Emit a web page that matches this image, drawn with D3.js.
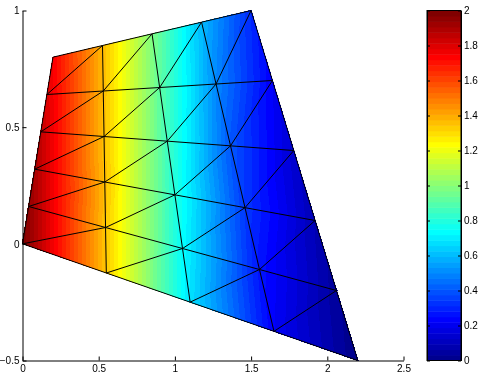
<!DOCTYPE html>
<html lang="en">
<head>
<meta charset="UTF-8"/>
<title>Triangle mesh with colorbar</title>
<style>
  body { margin: 0; background: #fff; }
  #wrap { position: relative; width: 481px; height: 376px; }
  #wrap canvas, #wrap svg { position: absolute; left: 0; top: 0; }
  text { font-family: "Liberation Sans", Arial, Helvetica, sans-serif; font-size: 10px; fill: #000; }
</style>
<script src="https://d3js.org/d3.v7.min.js"></script>
</head>
<body>
<div id="wrap"></div>
<script>
// mesh nodes, rows from bottom edge (row 0) to top edge (row 5), 5 nodes per row
var nodeX = [
  [0.00, 0.550, 1.10, 1.650, 2.20],
  [0.04, 0.545, 1.05, 1.555, 2.06],
  [0.08, 0.540, 1.00, 1.460, 1.92],
  [0.12, 0.535, 0.95, 1.365, 1.78],
  [0.16, 0.530, 0.90, 1.270, 1.64],
  [0.20, 0.525, 0.85, 1.175, 1.50]
];
var nodeY = [
  [0.00, -0.125, -0.25, -0.375, -0.50],
  [0.16,  0.070, -0.02, -0.110, -0.20],
  [0.32,  0.265,  0.21,  0.155,  0.10],
  [0.48,  0.460,  0.44,  0.420,  0.40],
  [0.64,  0.655,  0.67,  0.685,  0.70],
  [0.80,  0.850,  0.90,  0.950,  1.00]
];
// value at each node
var nodeVal = [
  [2.00, 1.34, 0.68, 0.22, 0.00],
  [1.95, 1.35, 0.74, 0.27, 0.04],
  [1.90, 1.36, 0.80, 0.34, 0.09],
  [1.85, 1.36, 0.86, 0.40, 0.14],
  [1.80, 1.37, 0.92, 0.50, 0.22],
  [1.75, 1.37, 0.98, 0.60, 0.31]
];
var xTicks = [0, 0.5, 1, 1.5, 2, 2.5];
var yTicks = [-0.5, 0, 0.5, 1];
var cTicks = [0, 0.2, 0.4, 0.6, 0.8, 1, 1.2, 1.4, 1.6, 1.8, 2];
var cRange = [0, 2];

var w = 481, h = 376;

var xScale = d3.scaleLinear().domain([0, 2.5]).range([22.5, 403.5]);
var yScale = d3.scaleLinear().domain([-0.5, 1]).range([360.5, 10.5]);
var cScale = d3.scaleLinear().domain(cRange).range([360.5, 10.5]);

// matlab jet, 64 levels
function jet(m) {
  var n = Math.ceil(m / 4), u = [], k;
  for (k = 1; k <= n; k++) u.push(k / n);
  for (k = 1; k < n; k++) u.push(1);
  for (k = n; k >= 1; k--) u.push(k / n);
  var g0 = Math.ceil(n / 2) - (m % 4 == 1 ? 1 : 0);
  var cols = d3.range(m).map(function() { return [0, 0, 0]; });
  u.forEach(function(val, j) {
    var g = g0 + j + 1, r = g + n, b = g - n;
    if (g >= 1 && g <= m) cols[g - 1][1] = val;
    if (r >= 1 && r <= m) cols[r - 1][0] = val;
    if (b >= 1 && b <= m) cols[b - 1][2] = val;
  });
  return cols.map(function(c) { return c.map(function(v) { return Math.round(v * 255); }); });
}
var cmap = jet(64);
function colorIndex(v) {
  var i = Math.floor((v - cRange[0]) / (cRange[1] - cRange[0]) * 64);
  return Math.max(0, Math.min(63, i));
}

// build triangles
var tris = [];
for (var j = 0; j < nodeX.length - 1; j++) {
  for (var i = 0; i < nodeX[0].length - 1; i++) {
    tris.push([[j, i], [j, i + 1], [j + 1, i + 1]]);
    tris.push([[j, i], [j + 1, i + 1], [j + 1, i]]);
  }
}
function px(n) { return [xScale(nodeX[n[0]][n[1]]), yScale(nodeY[n[0]][n[1]]), nodeVal[n[0]][n[1]]]; }

// fill with interpolated colour on a canvas
var canvas = d3.select("#wrap").append("canvas").attr("width", w).attr("height", h);
var ctx = canvas.node().getContext("2d");
var img = ctx.createImageData(w, h);
tris.forEach(function(t) {
  var a = px(t[0]), b = px(t[1]), c = px(t[2]);
  var det = (b[1] - c[1]) * (a[0] - c[0]) + (c[0] - b[0]) * (a[1] - c[1]);
  var x0 = Math.floor(Math.min(a[0], b[0], c[0])), x1 = Math.ceil(Math.max(a[0], b[0], c[0]));
  var y0 = Math.floor(Math.min(a[1], b[1], c[1])), y1 = Math.ceil(Math.max(a[1], b[1], c[1]));
  for (var yy = y0; yy <= y1; yy++) {
    for (var xx = x0; xx <= x1; xx++) {
      var sx = xx + 0.5, sy = yy + 0.5;
      var l1 = ((b[1] - c[1]) * (sx - c[0]) + (c[0] - b[0]) * (sy - c[1])) / det;
      var l2 = ((c[1] - a[1]) * (sx - c[0]) + (a[0] - c[0]) * (sy - c[1])) / det;
      var l3 = 1 - l1 - l2;
      var eps = -0.01;
      if (l1 < eps || l2 < eps || l3 < eps) continue;
      var v = l1 * a[2] + l2 * b[2] + l3 * c[2];
      var col = cmap[colorIndex(v)];
      var p = (yy * w + xx) * 4;
      img.data[p] = col[0]; img.data[p + 1] = col[1]; img.data[p + 2] = col[2]; img.data[p + 3] = 255;
    }
  }
});
ctx.putImageData(img, 0, 0);

var svg = d3.select("#wrap").append("svg").attr("width", w).attr("height", h);

// mesh lines
var line = d3.line().x(function(d) { return xScale(d[0]); }).y(function(d) { return yScale(d[1]); });
var segs = [];
nodeX.forEach(function(row, j) {
  segs.push(row.map(function(x, i) { return [x, nodeY[j][i]]; }));
});
nodeX[0].forEach(function(x, i) {
  segs.push(nodeX.map(function(row, j) { return [row[i], nodeY[j][i]]; }));
});
for (var j2 = 0; j2 < nodeX.length - 1; j2++) {
  for (var i2 = 0; i2 < nodeX[0].length - 1; i2++) {
    segs.push([[nodeX[j2][i2], nodeY[j2][i2]], [nodeX[j2 + 1][i2 + 1], nodeY[j2 + 1][i2 + 1]]]);
  }
}
svg.append("g").selectAll("path")
  .data(segs)
  .enter()
  .append("path")
  .attr("d", line)
  .attr("fill", "none")
  .attr("stroke", "#000")
  .attr("stroke-width", 1);

// axes, ticks inward
var xAxis = d3.axisBottom(xScale).tickValues(xTicks).tickSize(-4).tickSizeOuter(0).tickPadding(4)
  .tickFormat(function(d) { return d3.format("~g")(d); });
var yAxis = d3.axisLeft(yScale).tickValues(yTicks).tickSize(-4).tickSizeOuter(0).tickPadding(3)
  .tickFormat(function(d) { return d < 0 ? "\u2212" + d3.format("~g")(-d) : d3.format("~g")(d); });

svg.append("g").attr("transform", "translate(0,360.5)").call(xAxis);
svg.append("g").attr("transform", "translate(22.5,0)").call(yAxis);

// colorbar
var cb = svg.append("g");
var band = (cScale(cRange[0]) - cScale(cRange[1])) / 64;
cb.selectAll("rect")
  .data(cmap)
  .enter()
  .append("rect")
  .attr("x", 427)
  .attr("y", function(d, i) { return cScale(cRange[0]) - (i + 1) * band; })
  .attr("width", 34)
  .attr("height", band + 0.5)
  .attr("fill", function(d) { return "rgb(" + d.join(",") + ")"; });
cb.append("rect")
  .attr("x", 427).attr("y", 10.5).attr("width", 34).attr("height", 350)
  .attr("fill", "none").attr("stroke", "#000").attr("stroke-width", 1);

var cAxisR = d3.axisRight(cScale).tickValues(cTicks).tickSize(-3).tickSizeOuter(0).tickPadding(3)
  .tickFormat(function(d) { return d3.format("~g")(d); });
var cAxisL = d3.axisLeft(cScale).tickValues(cTicks).tickSize(-3).tickSizeOuter(0).tickFormat("");
svg.append("g").attr("transform", "translate(461,0)").call(cAxisR);
svg.append("g").attr("transform", "translate(427,0)").call(cAxisL);

svg.selectAll(".domain").attr("stroke", "#000");
svg.selectAll(".tick line").attr("stroke", "#000");
svg.selectAll(".tick text").attr("fill", "#000").style("font-size", "10px")
  .style("font-family", "'Liberation Sans', Arial, Helvetica, sans-serif");
</script>
</body>
</html>
